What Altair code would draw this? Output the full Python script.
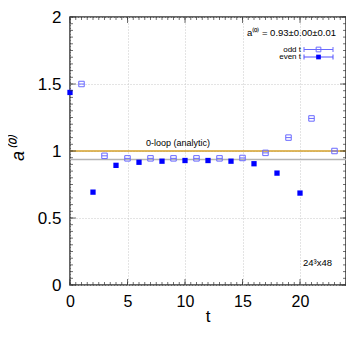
import altair as alt
import pandas as pd

EVEN_T = [0, 2, 4, 6, 8, 10, 12, 14, 16, 18, 20]
EVEN_V = [1.437, 0.693, 0.893, 0.916, 0.924, 0.929, 0.929, 0.924, 0.905, 0.835, 0.686]
ODD_T = [1, 3, 5, 7, 9, 11, 13, 15, 17, 19, 21, 23]
ODD_V = [1.50, 0.964, 0.945, 0.945, 0.945, 0.945, 0.945, 0.948, 0.986, 1.10, 1.243, 1.0]
FIT_VALUE = 0.936
ANALYTIC = 1.0
X_MAJOR = [0, 5, 10, 15, 20]
X_MINOR = [i * 0.5 for i in range(49)]
Y_MAJOR = [0, 0.5, 1, 1.5, 2]
Y_MINOR = [i * 0.05 for i in range(41)]

W, H = 276, 268
FONT = "Liberation Sans"

even = pd.DataFrame({"t": EVEN_T, "v": EVEN_V})
odd = pd.DataFrame({"t": ODD_T, "v": ODD_V})
xs = alt.Scale(domain=[0, 24], nice=False, zero=False)
ys = alt.Scale(domain=[0, 2], nice=False, zero=False)

base_x = alt.X("t:Q", scale=xs, axis=alt.Axis(values=X_MAJOR, grid=True, gridDash=[1, 2], gridColor="#c8c8c8",
                                                ticks=False, tickSize=0, domain=False, labelFontSize=16, labelFont=FONT,
                                                labelPadding=8, labelColor="black", title=None, labelFlush=False))
base_y = alt.Y("v:Q", scale=ys, axis=alt.Axis(values=Y_MAJOR, grid=True, gridDash=[1, 2], gridColor="#c8c8c8",
                                                ticks=False, tickSize=0, domain=False, labelFontSize=17, labelFont=FONT,
                                                labelPadding=9, labelColor="black", title=None, format="~g",
                                                labelFlush=False))

grid_layer = alt.Chart(pd.DataFrame({"t": [0], "v": [0]})).mark_point(opacity=0).encode(x=base_x, y=base_y)

fit_rule = alt.Chart(pd.DataFrame({"v": [FIT_VALUE]})).mark_rule(color="#b4b4b4", strokeWidth=1.5).encode(
    y=alt.Y("v:Q", scale=ys))
ana_rule = alt.Chart(pd.DataFrame({"v": [ANALYTIC]})).mark_rule(color="#d4a12a", strokeWidth=1.5).encode(
    y=alt.Y("v:Q", scale=ys))

odd_pts = alt.Chart(odd).mark_point(shape="M-1,-1H1V1H-1ZM-1,0H1", size=30, filled=False, color="#6a6aff",
                                     strokeWidth=1, opacity=1, clip=False).encode(
    x=alt.X("t:Q", scale=xs), y=alt.Y("v:Q", scale=ys))
even_pts = alt.Chart(even).mark_point(shape="square", size=28, filled=True, color="#0000ff", opacity=1,
                                       clip=False).encode(
    x=alt.X("t:Q", scale=xs), y=alt.Y("v:Q", scale=ys))

tick_col = "#333333"
def xticks(vals, length, top):
    yv = length / 2 if top else H - length / 2
    return alt.Chart(pd.DataFrame({"t": vals})).mark_tick(size=length, thickness=1, color=tick_col).encode(
        x=alt.X("t:Q", scale=xs), y=alt.value(yv))

def yticks(vals, length, right):
    xv = W - length / 2 if right else length / 2
    return alt.Chart(pd.DataFrame({"v": vals})).mark_tick(size=length, thickness=1, color=tick_col,
                                                           orient="horizontal").encode(
        y=alt.Y("v:Q", scale=ys), x=alt.value(xv))

ticks = [xticks(X_MINOR, 3, False), xticks(X_MINOR, 3, True), xticks(X_MAJOR, 6, False), xticks(X_MAJOR, 6, True),
         yticks(Y_MINOR, 3, False), yticks(Y_MINOR, 3, True), yticks(Y_MAJOR, 6, False), yticks(Y_MAJOR, 6, True)]

one = pd.DataFrame({"a": [0]})

def txt(s, x, y, size, align="center", angle=0, style="normal"):
    return alt.Chart(one).mark_text(text=s, fontSize=size, font=FONT, align=align, baseline="middle",
                                     angle=angle, fontStyle=style, color="black").encode(
        x=alt.value(x), y=alt.value(y))

def rule(x, x2, y, y2, color):
    return alt.Chart(one).mark_rule(color=color, strokeWidth=1).encode(
        x=alt.value(x), x2=alt.value(x2), y=alt.value(y), y2=alt.value(y2))

def sym(x, y, shape, filled, color):
    return alt.Chart(one).mark_point(shape=shape, size=22, filled=filled, color=color, opacity=1,
                                      strokeWidth=1).encode(x=alt.value(x), y=alt.value(y))

annot = [
    txt("a⁽⁰⁾ = 0.93±0.00±0.01", 266, 16, 9.5, align="right"),
    txt("odd t", 231, 32.5, 8, align="right"),
    txt("even t", 231, 40, 8, align="right"),
    rule(234, 263, 32.5, 32.5, "#6a6aff"), rule(234, 234, 30, 35, "#6a6aff"), rule(263, 263, 30, 35, "#6a6aff"),
    rule(234, 263, 40, 40, "#5050ff"), rule(234, 234, 37.5, 42.5, "#5050ff"), rule(263, 263, 37.5, 42.5, "#5050ff"),
    sym(248.5, 32.5, "M-1,-1H1V1H-1ZM-1,0H1", False, "#6a6aff"),
    sym(248.5, 40, "square", True, "#0000ff"),
    txt("0-loop (analytic)", 108, 126, 9),
    txt("24³x48", 262, 246, 9.5, align="right"),
    txt("t", W / 2, H + 32, 17),
    txt("a⁽⁰⁾", -51, H / 2 - 2, 18, angle=270, style="italic"),
]

chart = alt.layer(grid_layer, fit_rule, ana_rule, odd_pts, even_pts, *ticks, *annot).properties(
    width=W, height=H,
    autosize=alt.AutoSizeParams(type="none"),
    padding={"left": 62, "top": 9, "right": 0, "bottom": 43},
).configure_view(stroke="#333333", strokeWidth=1.5)

chart.save("out.html", embed_options={"renderer": "svg", "actions": False})
